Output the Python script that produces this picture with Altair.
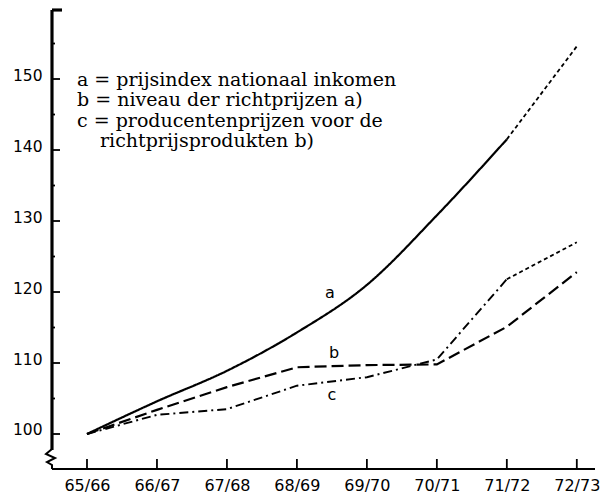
import altair as alt
import pandas as pd

# ---- data ----
years = ["65/66", "66/67", "67/68", "68/69", "69/70", "70/71", "71/72", "72/73"]
a_vals = [100, 104.6, 108.9, 114.3, 121.0, 130.8, 141.5, 154.6]
b_vals = [100, 103.4, 106.6, 109.4, 109.7, 109.8, 115.1, 122.8]
c_vals = [100, 102.7, 103.5, 106.8, 108.0, 110.5, 121.8, 127.0]
y_major = [100, 110, 120, 130, 140, 150]
y_minor = [105, 115, 125, 135, 145, 155]
legend_lines = [
    "a = prijsindex nationaal inkomen",
    "b = niveau der richtprijzen a)",
    "c = producentenprijzen voor de",
    "richtprijsprodukten b)",
]
series_names = ["a", "b", "c"]
series_label_x = [3.47, 3.53, 3.5]
series_label_y = [119.9, 111.4, 105.5]

W, H = 543, 459
xs = alt.Scale(domain=[-0.5, 7.26], nice=False, zero=False)
ys = alt.Scale(domain=[95.07, 159.72], nice=False, zero=False)

idx = list(range(len(years)))
df = pd.DataFrame({"i": idx, "year": years, "a": a_vals, "b": b_vals, "c": c_vals})

label_expr = "[" + ",".join("'%s'" % y for y in years) + "][datum.value]"
xaxis = alt.Axis(values=idx, labelExpr=label_expr, domain=False, ticks=False, grid=False,
                 labelFont="DejaVu Sans", labelFontSize=16, labelColor="black",
                 labelPadding=8, title=None, labelFlush=False, labelOverlap=False)
yaxis = alt.Axis(values=y_major, domain=False, ticks=False, grid=False,
                 labelFont="DejaVu Sans", labelFontSize=15.5, labelColor="black",
                 labelPadding=10, labelOffset=-4, title=None, labelFlush=False,
                 labelOverlap=False)

X = lambda f: alt.X(f, type="quantitative", scale=xs, axis=xaxis)
Y = lambda f: alt.Y(f, type="quantitative", scale=ys, axis=yaxis)

def seg(col, lo, hi, dash, interp="linear", width=2.0):
    d = df[(df.i >= lo) & (df.i <= hi)]
    return alt.Chart(d).mark_line(color="black", strokeWidth=width, strokeDash=dash,
                                  interpolate=interp).encode(x=X("i"), y=Y(col))

layers = []
layers.append(seg("a", 0, 6, [1, 0], "monotone", 2.2))
layers.append(seg("a", 6, 7, [4, 3], "linear", 1.8))
layers.append(seg("b", 0, 7, [12, 5], "linear", 2.2))
layers.append(seg("c", 0, 6, [9, 4, 2, 4], "linear", 1.9))
layers.append(seg("c", 6, 7, [4, 3], "linear", 1.8))

# axis lines
layers.append(alt.Chart(df).mark_rule(color="black", strokeWidth=2.2).encode(
    x=alt.value(0), x2=alt.value(W), y=alt.value(H)))
layers.append(alt.Chart(df).mark_rule(color="black", strokeWidth=2.2).encode(
    x=alt.value(0), y=alt.value(0), y2=alt.value(H - 19)))
layers.append(alt.Chart(df).mark_rule(color="black", strokeWidth=2.2).encode(
    x=alt.value(0), x2=alt.value(10), y=alt.value(0)))
zig = pd.DataFrame({"k": [0, 1, 2, 3, 4, 5],
                    "px": [0, -6, 3, -5, 0, 0],
                    "py": [H - 20, H - 15, H - 11, H - 7, H - 4, H]})
layers.append(alt.Chart(zig).mark_line(color="black", strokeWidth=2.0).encode(
    x=alt.X("px:Q", scale=None), y=alt.Y("py:Q", scale=None), order="k:Q"))

# ticks
layers.append(alt.Chart(pd.DataFrame({"v": y_major})).mark_rule(color="black", strokeWidth=1.8).encode(
    x=alt.value(0), x2=alt.value(8), y=Y("v")))
layers.append(alt.Chart(pd.DataFrame({"v": y_minor})).mark_rule(color="black", strokeWidth=1.8).encode(
    x=alt.value(0), x2=alt.value(3), y=Y("v")))
layers.append(alt.Chart(df).mark_rule(color="black", strokeWidth=1.8).encode(
    x=X("i"), y=alt.value(H), y2=alt.value(H - 10)))

# series letters
lab = pd.DataFrame({"n": series_names, "x": series_label_x, "y": series_label_y})
layers.append(alt.Chart(lab).mark_text(font="DejaVu Sans", fontSize=16, color="black").encode(
    x=X("x"), y=Y("y"), text="n:N"))

# legend text
leg_x = [25, 25, 25, 48]
for k, line in enumerate(legend_lines):
    layers.append(alt.Chart(df.head(1)).mark_text(
        font="DejaVu Serif", fontSize=19, color="black", align="left", baseline="middle",
        text=line).encode(x=alt.value(leg_x[k]), y=alt.value(70 + 20.3 * k)))

chart = alt.layer(*layers).properties(
    width=W, height=H, autosize=alt.AutoSizeParams(type="none"),
    padding={"left": 44, "top": 2, "right": 11, "bottom": 24},
    background="white",
).configure_view(stroke=None)

chart.save("out.html", embed_options={"renderer": "svg", "actions": False})
